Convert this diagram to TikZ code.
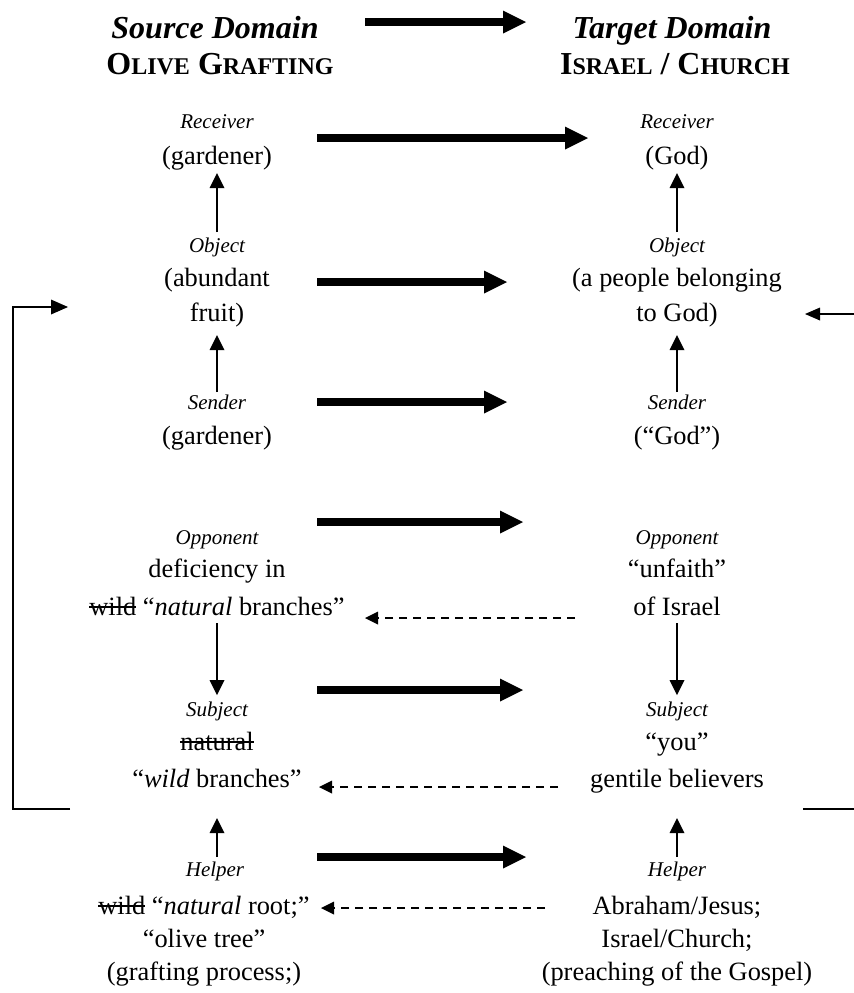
\documentclass[tikz,border=0pt]{standalone}
\usepackage{fontspec}
\setmainfont{Liberation Serif}
\usetikzlibrary{arrows.meta}

% struck-through word: text with a rule across it
\newsavebox\strikebox
\newcommand\strikeword[1]{\sbox\strikebox{#1}\rlap{\usebox\strikebox}\rule[0.26em]{\wd\strikebox}{0.075em}}
% faked small capitals for the domain titles
\newcommand\smallcap[1]{{\fontsize{12}{14}\selectfont #1}}

\tikzset{
  body/.style={anchor=base, inner sep=0pt, font=\fontsize{13.2}{16}\selectfont},
  role/.style={anchor=base, inner sep=0pt, font=\fontsize{10.5}{12}\selectfont\itshape},
  head/.style={anchor=base, inner sep=0pt, font=\fontsize{16}{18}\selectfont\bfseries},
  maparrow/.style={line width=3.85pt, -{Triangle[length=11.5pt,width=11.5pt,line width=0pt]}},
  rolearrow/.style={line width=1pt, -{Triangle[length=7.5pt,width=7.5pt,line width=0pt]}},
  backarrow/.style={line width=1pt, dash pattern=on 4pt off 3pt, -{Triangle[length=6.5pt,width=6.5pt,line width=0pt]}},
  loopline/.style={line width=1.25pt},
}

\begin{document}
\begin{tikzpicture}[x=0.5pt, y=-0.5pt]
\useasboundingbox (0,0) rectangle (854,993);

% ---------- domain titles ----------
\node[head] (srcA) at (215,38) {\itshape Source Domain};
\node[head] (srcB) at (220,74) {O\smallcap{LIVE} G\smallcap{RAFTING}};
\node[head] (tgtA) at (672,38) {\itshape Target Domain};
\node[head] (tgtB) at (675,74) {I\smallcap{SRAEL} / C\smallcap{HURCH}};
\coordinate (hA) at (365,22);
\coordinate (hB) at (526,22);
\draw[maparrow] (hA) -- (hB);

% ---------- source domain (olive grafting) ----------
\node[role] (sRecL) at (217,128) {Receiver};
\node[body] (sRecV) at (217,164) {(gardener)};
\node[role] (sObjL) at (217,252) {Object};
\node[body] (sObjV1) at (217,286) {(abundant};
\node[body] (sObjV2) at (217,321) {fruit)};
\node[role] (sSenL) at (217,409) {Sender};
\node[body] (sSenV) at (217,444) {(gardener)};
\node[role] (sOppL) at (217,544) {Opponent};
\node[body] (sOppV1) at (217,577) {deficiency in};
\node[body] (sOppV2) at (217,615) {\strikeword{wild} “\textit{natural} branches”};
\node[role] (sSubL) at (217,716) {Subject};
\node[body] (sSubV1) at (217,750) {\strikeword{natural}};
\node[body] (sSubV2) at (217,787) {“\textit{wild} branches”};
\node[role] (sHelL) at (215,876) {Helper};
\node[body] (sHelV1) at (204,914) {\strikeword{wild} “\textit{natural} root;”};
\node[body] (sHelV2) at (204,947) {“olive tree”};
\node[body] (sHelV3) at (204,980) {(grafting process;)};

% ---------- target domain (Israel / Church) ----------
\node[role] (tRecL) at (677,128) {Receiver};
\node[body] (tRecV) at (677,164) {(God)};
\node[role] (tObjL) at (677,252) {Object};
\node[body] (tObjV1) at (677,286) {(a people belonging};
\node[body] (tObjV2) at (677,321) {to God)};
\node[role] (tSenL) at (677,409) {Sender};
\node[body] (tSenV) at (677,444) {(“God”)};
\node[role] (tOppL) at (677,544) {Opponent};
\node[body] (tOppV1) at (677,577) {“unfaith”};
\node[body] (tOppV2) at (677,615) {of Israel};
\node[role] (tSubL) at (677,716) {Subject};
\node[body] (tSubV1) at (677,750) {“you”};
\node[body] (tSubV2) at (677,787) {gentile believers};
\node[role] (tHelL) at (677,876) {Helper};
\node[body] (tHelV1) at (677,914) {Abraham/Jesus;};
\node[body] (tHelV2) at (677,947) {Israel/Church;};
\node[body] (tHelV3) at (677,980) {(preaching of the Gospel)};

% ---------- mapping arrows between the domains ----------
\foreach \n/\y/\tip in {rec/138/588, obj/282/507, sen/402/507, opp/522/523, sub/690/523, hel/857/526}{
  \coordinate (m\n A) at (317,\y);
  \coordinate (m\n B) at (\tip,\y);
  \draw[maparrow] (m\n A) -- (m\n B);
}

% ---------- actant arrows inside each domain ----------
\foreach \c/\x in {s/217, t/677}{
  \coordinate (\c a1) at (\x,232);  \coordinate (\c a2) at (\x,173);
  \coordinate (\c b1) at (\x,392);  \coordinate (\c b2) at (\x,335);
  \coordinate (\c c1) at (\x,623);  \coordinate (\c c2) at (\x,695);
  \coordinate (\c d1) at (\x,857);  \coordinate (\c d2) at (\x,818);
  \draw[rolearrow] (\c a1) -- (\c a2);
  \draw[rolearrow] (\c b1) -- (\c b2);
  \draw[rolearrow] (\c c1) -- (\c c2);
  \draw[rolearrow] (\c d1) -- (\c d2);
}

% ---------- dashed return arrows ----------
\coordinate (r1A) at (575,618); \coordinate (r1B) at (365,618);
\coordinate (r2A) at (558,787); \coordinate (r2B) at (319,787);
\coordinate (r3A) at (545,908); \coordinate (r3B) at (321,908);
\draw[backarrow] (r1A) -- (r1B);
\draw[backarrow] (r2A) -- (r2B);
\draw[backarrow] (r3A) -- (r3B);

% ---------- loop from Subject back to Object ----------
\coordinate (lpA) at (70,809);
\coordinate (lpB) at (13,809);
\coordinate (lpC) at (13,307);
\coordinate (lpD) at (68,307);
\draw[loopline, -{Triangle[length=8.5pt,width=7.5pt,line width=0pt]}] (lpA) -- (lpB) -- (lpC) -- (lpD);
\coordinate (rpA) at (803,809);
\coordinate (rpB) at (854,809);
\draw[loopline] (rpA) -- (rpB);
\coordinate (rqA) at (854,314);
\coordinate (rqB) at (805,314);
\draw[line width=0.65pt, -{Triangle[length=7.5pt,width=6.5pt,line width=0pt]}] (rqA) -- (rqB);
\end{tikzpicture}
\end{document}
